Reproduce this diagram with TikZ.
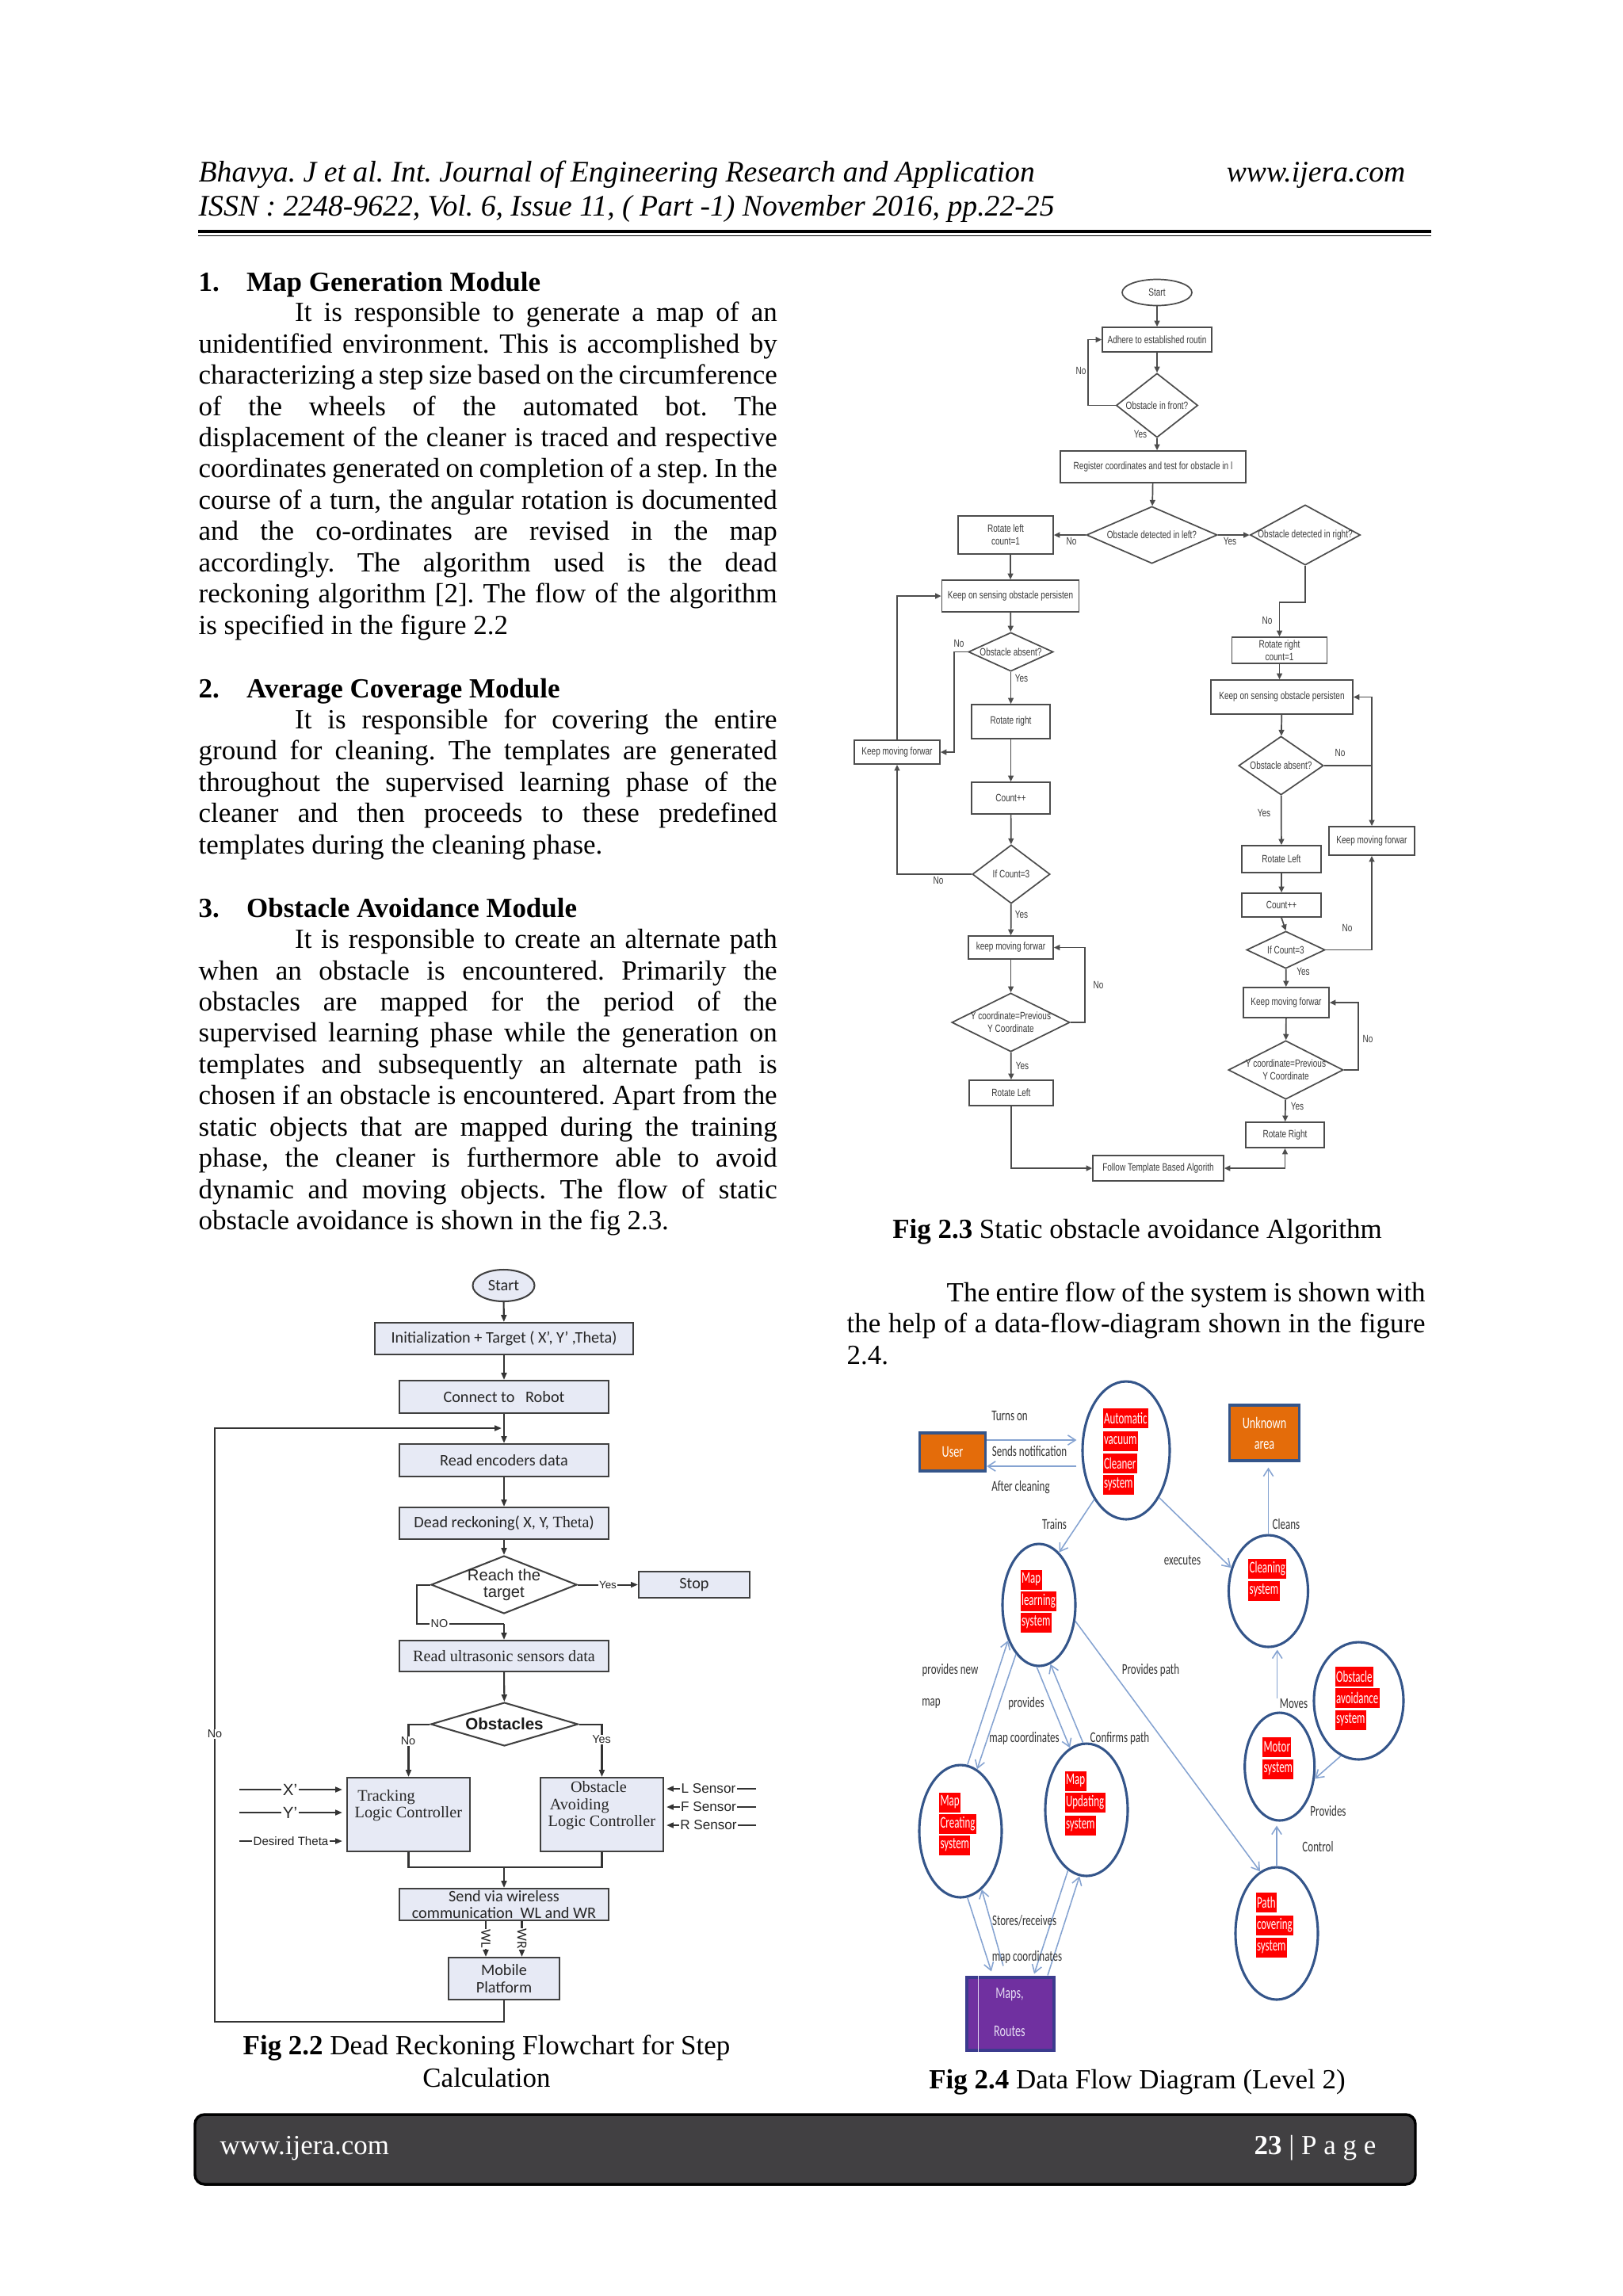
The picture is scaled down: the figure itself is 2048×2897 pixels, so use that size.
\documentclass[tikz,border=0pt]{standalone}
\usepackage{fontspec}
\setmainfont{Liberation Serif}
\newfontfamily\fArial{Liberation Sans}
\newfontfamily\fArialN[FakeStretch=0.75]{Liberation Sans}
\newfontfamily\fCal{Carlito}
\newfontfamily\fCalN[FakeStretch=0.69]{Carlito}
\newfontfamily\fCalR[FakeStretch=0.63]{Carlito}
\usetikzlibrary{shapes.geometric,arrows.meta,calc}
\newdimen\pxu \pxu=0.10254mm
\def\PX{*0.10254mm}
\definecolor{boxblue}{HTML}{E7EAF5}
\definecolor{foot}{HTML}{414042}
\definecolor{orng}{HTML}{E46C0A}
\definecolor{dblue}{HTML}{34558A}
\definecolor{lblue}{HTML}{85A3D1}
\definecolor{purp}{HTML}{7030A0}
\definecolor{purpb}{HTML}{3B3B8E}
\definecolor{lav}{HTML}{E4DAF2}
\definecolor{txtg}{HTML}{3A3A3A}
\tikzset{
  wh/.style 2 args={minimum width=#1\PX, minimum height=#2\PX},
  body/.style={anchor=base west, inner sep=0pt, font=\fontsize{10.2}{12}\selectfont},
  bodyb/.style={body, font=\fontsize{10.2}{12}\selectfont\bfseries},
  fthree/.style={font=\fArialN\fontsize{3.9}{4.6}\selectfont, text=txtg},
  b3/.style={draw=black!70, line width=0.5pt, inner sep=0pt, align=center, fthree},
  d3/.style={b3, diamond},
  e3/.style={b3, ellipse},
  l3/.style={fthree, inner sep=0pt, align=center},
  a3/.style={draw=black!70, line width=0.5pt, -{Triangle[length=2.2pt,width=2pt]}},
  a3b/.style={draw=black!70, line width=0.5pt, {Triangle[length=2.2pt,width=2pt]}-{Triangle[length=2.2pt,width=2pt]}},
  l3line/.style={draw=black!70, line width=0.5pt},
  b2/.style={draw=black!75, fill=boxblue, line width=0.6pt, inner sep=0pt, align=center, text=black!85, font=\fCal\fontsize{5.9}{6.2}\selectfont},
  a2/.style={draw=black!80, line width=0.6pt, -{Triangle[length=2.6pt,width=2pt]}},
  l2/.style={draw=black!80, line width=0.6pt},
  lab2/.style={inner sep=0.4pt, text=black!85, font=\fArial\fontsize{4.2}{5}\selectfont},
  lab2s/.style={inner sep=0.4pt, text=black!85, font=\fArial\fontsize{3.9}{5}\selectfont},
  lab2m/.style={inner sep=0.4pt, text=black!85, font=\fArial\fontsize{5}{6}\selectfont},
  lab2x/.style={inner sep=0.4pt, text=black!85, font=\fArial\fontsize{6}{7}\selectfont},
  tim2/.style={anchor=west, inner sep=0pt, align=left, text=black!85, font=\rmfamily\fontsize{5.9}{6.15}\selectfont},
  el4/.style={ellipse, draw=dblue, line width=0.9pt, inner sep=0pt},
  rw/.style={fill=red, text=white, anchor=west, inner xsep=0.4pt, inner ysep=0pt, minimum height=25\PX, font=\fCalR\fontsize{6}{7}\selectfont},
  l4/.style={inner sep=0pt, text=black!80, font=\fCalN\fontsize{5.5}{6.5}\selectfont},
  c4w/.style={inner sep=0pt, text=lav, font=\fCalN\fontsize{6}{7}\selectfont},
  a4/.style={draw=lblue, line width=0.45pt, -{Straight Barb[length=2.8pt,width=3.6pt]}},
}
\begin{document}
\frenchspacing
\begin{tikzpicture}[x=0.10254mm, y=-0.10254mm]
\useasboundingbox (0,0) rectangle (2048,2897);
\fill[white] (0,0) rectangle (2048,2897);

% ---------- header ----------
\node[anchor=base west, inner sep=0pt, font=\fontsize{11}{13}\selectfont\itshape] (h1) at (250,229) {Bhavya. J et al. Int. Journal of Engineering Research and Application};
\node[anchor=base east, inner sep=0pt, font=\fontsize{11}{13}\selectfont\itshape] (h2) at (1774,229) {www.ijera.com};
\node[anchor=base west, inner sep=0pt, font=\fontsize{11}{13}\selectfont\itshape] (h3) at (250,272) {ISSN : 2248-9622, Vol. 6, Issue 11, ( Part -1) November 2016, pp.22-25};
\draw[line width=1pt] (250,292) -- (1806,292);
\draw[line width=0.3pt] (250,297) -- (1806,297);

% ---------- left column text ----------
\node[bodyb] (hd1n) at (250,367) {1.};
\node[bodyb] (hd1) at (310.5,367) {Map Generation Module};
\node[body] (p1a) at (371.5,405.6) {\makebox[62.396mm][s]{It is responsible to generate a map of an}};
\node[body] (p1b) at (250,445.1) {\makebox[74.854mm][s]{unidentified environment. This is accomplished by}};
\node[body] (p1c) at (250,484.5) {\makebox[74.854mm][s]{characterizing a step size based on the circumference}};
\node[body] (p1d) at (250,524.0) {\makebox[74.854mm][s]{of the wheels of the automated bot. The}};
\node[body] (p1e) at (250,563.4) {\makebox[74.854mm][s]{displacement of the cleaner is traced and respective}};
\node[body] (p1f) at (250,602.9) {\makebox[74.854mm][s]{coordinates generated on completion of a step. In the}};
\node[body] (p1g) at (250,642.4) {\makebox[74.854mm][s]{course of a turn, the angular rotation is documented}};
\node[body] (p1h) at (250,681.8) {\makebox[74.854mm][s]{and the co-ordinates are revised in the map}};
\node[body] (p1i) at (250,721.3) {\makebox[74.854mm][s]{accordingly. The algorithm used is the dead}};
\node[body] (p1j) at (250,760.7) {\makebox[74.854mm][s]{reckoning algorithm [2]. The flow of the algorithm}};
\node[body] (p1k) at (250,800.2) {is specified in the figure 2.2};

\node[bodyb] (hd2n) at (250,880) {2.};
\node[bodyb] (hd2) at (310.5,880) {Average Coverage Module};
\node[body] (p2a) at (371.5,919.5) {\makebox[62.396mm][s]{It is responsible for covering the entire}};
\node[body] (p2b) at (250,958.9) {\makebox[74.854mm][s]{ground for cleaning. The templates are generated}};
\node[body] (p2c) at (250,998.4) {\makebox[74.854mm][s]{throughout the supervised learning phase of the}};
\node[body] (p2d) at (250,1037.8) {\makebox[74.854mm][s]{cleaner and then proceeds to these predefined}};
\node[body] (p2e) at (250,1077.3) {templates during the cleaning phase.};

\node[bodyb] (hd3n) at (250,1157) {3.};
\node[bodyb] (hd3) at (310.5,1157) {Obstacle Avoidance Module};
\node[body] (p3a) at (371.5,1196.5) {\makebox[62.396mm][s]{It is responsible to create an alternate path}};
\node[body] (p3b) at (250,1236) {\makebox[74.854mm][s]{when an obstacle is encountered. Primarily the}};
\node[body] (p3c) at (250,1275.4) {\makebox[74.854mm][s]{obstacles are mapped for the period of the}};
\node[body] (p3d) at (250,1314.9) {\makebox[74.854mm][s]{supervised learning phase while the generation on}};
\node[body] (p3e) at (250,1354.3) {\makebox[74.854mm][s]{templates and subsequently an alternate path is}};
\node[body] (p3f) at (250,1393.8) {\makebox[74.854mm][s]{chosen if an obstacle is encountered. Apart from the}};
\node[body] (p3g) at (250,1433.2) {\makebox[74.854mm][s]{static objects that are mapped during the training}};
\node[body] (p3h) at (250,1472.7) {\makebox[74.854mm][s]{phase, the cleaner is furthermore able to avoid}};
\node[body] (p3i) at (250,1512.1) {\makebox[74.854mm][s]{dynamic and moving objects. The flow of static}};
\node[body] (p3j) at (250,1551.6) {obstacle avoidance is shown in the fig 2.3.};

% ---------- right column text ----------
\node[body, anchor=base] (cap3) at (1435,1562.7) {\textbf{Fig 2.3} Static obstacle avoidance Algorithm};
\node[body] (r1a) at (1194,1642) {\makebox[61.934mm][s]{The entire flow of the system is shown with}};
\node[body] (r1b) at (1068,1681.5) {\makebox[74.854mm][s]{the help of a data-flow-diagram shown in the figure}};
\node[body] (r1c) at (1068,1721) {2.4.};

% ---------- captions ----------
\node[body, anchor=base] (cap2a) at (614,2592) {\textbf{Fig 2.2} Dead Reckoning Flowchart for Step};
\node[body, anchor=base] (cap2b) at (614,2633) {Calculation};
\node[body, anchor=base] (cap4) at (1435,2635) {\textbf{Fig 2.4} Data Flow Diagram (Level 2)};

% ---------- footer ----------
\draw[rounded corners=3.5pt, fill=foot, draw=black, line width=1pt] (246,2668) rectangle (1786,2756);
\node[anchor=base west, inner sep=0pt, text=white, font=\fontsize{10.2}{12}\selectfont] (f1) at (277,2718) {www.ijera.com};
\node[anchor=base east, inner sep=0pt, text=white, font=\fontsize{10.2}{12}\selectfont] (f2) at (1737,2718) {\textbf{23} | P a g e};

% ================= Fig 2.3 =================
\node[e3, wh={88}{33}] (aStart) at (1460,369) {Start};
\node[b3, wh={138}{31}] (aAdh) at (1460,428.5) {Adhere to established routin};
\node[d3, wh={103}{81}, label={[l3]center:{Obstacle in front?}}] (aFront) at (1460,511.5) {};
\node[b3, wh={234}{40}] (aReg) at (1455,589) {Register coordinates and test for obstacle in l};
\node[d3, wh={165}{72}, label={[l3]center:{Obstacle detected in left?}}] (aLeft) at (1453.5,675) {};
\node[b3, wh={120}{48}] (aRotL) at (1269,675) {Rotate left\\count=1};
\node[d3, wh={139}{76}, label={[l3]center:{Obstacle detected in right?}}] (aRight) at (1647,675) {};
\node[b3, wh={173}{40}] (aKeepS1) at (1275,752) {Keep on sensing obstacle persisten};
\node[d3, wh={107}{49}, label={[l3]center:{Obstacle absent?}}] (aAbs1) at (1275.5,822.5) {};
\node[b3, wh={108}{30}] (aKmf1) at (1132,949) {Keep moving forwar};
\node[b3, wh={99}{43}] (aRotR1) at (1275.5,910.5) {Rotate right};
\node[b3, wh={99}{40}] (aCnt1) at (1275.5,1007) {Count++};
\node[d3, wh={98}{74}, label={[l3]center:{If Count=3}}] (aIf1) at (1276,1103) {};
\node[b3, wh={107}{29}] (aKmf2) at (1275.5,1195.5) {keep moving forwar};
\node[d3, wh={149}{74}, label={[l3]center:{Y coordinate=Previous\\Y Coordinate}}] (aY1) at (1275.5,1290) {};
\node[b3, wh={106}{32}] (aRotL2) at (1276,1379) {Rotate Left};
\node[b3, wh={165}{32}] (aFollow) at (1461.5,1474) {Follow Template Based Algorith};
\node[b3, wh={120}{33}] (aRotR2) at (1614.5,820.5) {Rotate right\\count=1};
\node[b3, wh={179}{43}] (aKeepS2) at (1617.5,879.5) {Keep on sensing obstacle persisten};
\node[d3, wh={107}{74}, label={[l3]center:{Obstacle absent?}}] (aAbs2) at (1616.5,966) {};
\node[b3, wh={108}{36}] (aKmf3) at (1731,1061) {Keep moving forwar};
\node[b3, wh={100}{34}] (aRotL3) at (1617,1084) {Rotate Left};
\node[b3, wh={100}{30}] (aCnt2) at (1617,1142) {Count++};
\node[d3, wh={99}{47}, label={[l3]center:{If Count=3}}] (aIf2) at (1622.5,1198.5) {};
\node[b3, wh={108}{38}] (aKmf4) at (1623,1265) {Keep moving forwar};
\node[d3, wh={145}{74}, label={[l3]center:{Y coordinate=Previous\\Y Coordinate}}] (aY2) at (1622.5,1350) {};
\node[b3, wh={99}{32}] (aRotR3) at (1621.5,1432) {Rotate Right};

\draw[a3] (aStart) -- (aAdh);
\draw[a3] (aAdh) -- (aFront);
\draw[a3] (aFront.west) -- ++(-35,0) |- (aAdh.west);
\draw[a3] (aFront.south) -- (aFront.south |- aReg.north);
\draw[a3] (aReg) -- (aLeft);
\draw[a3] (aLeft.west) -- (aRotL.east);
\draw[a3] (aLeft.east) -- (aRight.west);
\draw[a3] (aKeepS1.north |- aRotL.south) -- (aKeepS1.north);
\draw[a3] (aKeepS1) -- (aAbs1);
\draw[a3] (aAbs1.west) -- ++(-17,0) |- (aKmf1.east);
\draw[a3] (aAbs1) -- (aRotR1);
\draw[a3] (aRotR1) -- (aCnt1);
\draw[a3] (aCnt1) -- (aIf1);
\draw[a3] (aIf1.west) -| (aKmf1.south);
\draw[a3] (aKmf1.north) |- (aKeepS1.west);
\draw[a3] (aIf1) -- (aKmf2);
\draw[a3] (aKmf2) -- (aY1);
\draw[a3] (aY1.east) -- ++(18,0) |- (aKmf2.east);
\draw[a3] (aY1) -- (aRotL2);
\draw[a3] (aRotL2.south) |- (aFollow.west);
\draw[a3] (aRight.south) -- ++(0,46) -| (aRotR2.north);
\draw[a3] (aRotR2.south) -- (aRotR2.south |- aKeepS2.north);
\draw[a3] (aKeepS2) -- (aAbs2);
\coordinate (aJ) at (1731,966);
\draw[l3line] (aAbs2.east) -- (aJ);
\draw[a3] (aJ) |- (aKeepS2.east);
\draw[a3] (aJ) -- (aKmf3.north);
\draw[a3] (aAbs2) -- (aRotL3);
\draw[a3] (aRotL3) -- (aCnt2);
\draw[a3] (aCnt2.south) -- (aIf2.north);
\draw[a3] (aIf2.east) -| (aKmf3.south);
\draw[a3] (aIf2) -- (aKmf4);
\draw[a3] (aKmf4) -- (aY2);
\draw[a3] (aY2.east) -- ++(18,0) |- (aKmf4.east);
\draw[a3] (aY2) -- (aRotR3);
\draw[a3b] (aRotR3.south) |- (aFollow.east);

\node[l3] (aL1) at (1364,468) {No};
\node[l3] (aL2) at (1439,548) {Yes};
\node[l3] (aL3) at (1352,683) {No};
\node[l3] (aL4) at (1552,683) {Yes};
\node[l3] (aL5) at (1599,783) {No};
\node[l3] (aL6) at (1210,812) {No};
\node[l3] (aL7) at (1289,856) {Yes};
\node[l3] (aL8) at (1691,950) {No};
\node[l3] (aL9) at (1595,1026) {Yes};
\node[l3] (aL10) at (1184,1111) {No};
\node[l3] (aL11) at (1289,1154) {Yes};
\node[l3] (aL12) at (1700,1171) {No};
\node[l3] (aL13) at (1644.5,1226) {Yes};
\node[l3] (aL14) at (1386,1243) {No};
\node[l3] (aL15) at (1726,1311) {No};
\node[l3] (aL16) at (1290,1345) {Yes};
\node[l3] (aL17) at (1637,1396) {Yes};

% ================= Fig 2.2 =================
\node[b2, ellipse, wh={78}{40}] (bStart) at (635.5,1622) {Start};
\node[b2, wh={326}{40}] (bInit) at (636,1689) {Initialization + Target ( X’, Y’ ,Theta)};
\node[b2, wh={264}{41}] (bConn) at (636,1762.5) {Connect to\ \ \ Robot};
\node[b2, wh={264}{41}] (bEnc) at (636,1842.5) {Read encoders data};
\node[b2, wh={264}{40}] (bDead) at (636,1922) {Dead reckoning( X, Y, {\rmfamily Theta})};
\node[b2, diamond, fill=white, wh={184}{73}, label={[inner sep=0pt, align=center, text=black!85, font=\fArial\fontsize{5.9}{6.2}\selectfont]center:{Reach the\\target}}] (bReach) at (636,1999.5) {};
\node[b2, wh={140}{33}] (bStop) at (876,1999.5) {Stop};
\node[b2, wh={264}{39}, font=\rmfamily\fontsize{5.9}{6.2}\selectfont] (bUltra) at (636,2089.5) {Read ultrasonic sensors data};
\node[b2, diamond, fill=white, wh={186}{55}, label={[inner sep=0pt, text=black!90, font=\fArial\bfseries\fontsize{6}{7}\selectfont]center:{Obstacles}}] (bObs) at (636.5,2175.5) {};
\node[b2, wh={155}{93}] (bTrack) at (515.5,2289.5) {};
\node[tim2] (bTrackT) at (447,2278.5) {\hspace*{1.1pt}Tracking\\Logic Controller};
\node[b2, wh={155}{93}] (bAvoid) at (759.5,2289.5) {};
\node[tim2, font=\rmfamily\fontsize{5.9}{6.25}\selectfont] (bAvoidT) at (691,2278.5) {\hspace*{8.3pt}Obstacle\\\hspace*{0.6pt}Avoiding\\Logic Controller};
\node[b2, wh={264}{40}] (bSend) at (636,2403) {Send via wireless\\communication\ \ WL and WR};
\node[b2, wh={140}{53}] (bMob) at (636,2496.5) {Mobile\\Platform};

\draw[a2] (bStart) -- (bInit);
\draw[a2] (bInit) -- (bConn);
\draw[a2] (bConn) -- (bEnc);
\draw[a2] (bEnc) -- (bDead);
\draw[a2] (bDead) -- (bReach);
\draw[a2] (bReach.east) -- (bStop.west) node[lab2s, fill=white, midway] (bYes1) {Yes};
\coordinate (bNoJ) at (636,2049);
\draw[l2] (bReach.west) -- ++(-17,0) |- (bNoJ);
\draw[a2] (bNoJ) -- (bUltra.north);
\node[lab2, fill=white] (bNO) at (554.5,2049) {NO};
\draw[a2] (bUltra) -- (bObs);
\draw[a2] (bObs.west) -| (bTrack.north);
\draw[a2] (bObs.east) -| (bAvoid.north);
\node[lab2, fill=white] (bNo2) at (515,2197) {No};
\node[lab2, fill=white] (bYes2) at (759,2195) {Yes};
\coordinate (bMerge) at (636,2356);
\draw[l2] (bTrack.south) |- (bMerge) -| (bAvoid.south);
\draw[a2] (bMerge) -- (bSend.north);
\draw[a2] ([xshift=-23\PX]bSend.south) -- ([xshift=-23\PX]bMob.north) node[midway, rotate=-90, fill=white, inner sep=0.3pt, text=black!85, font=\fCal\fontsize{5.2}{6}\selectfont] (bWL) {WL};
\draw[a2] ([xshift=22.5\PX]bSend.south) -- ([xshift=22.5\PX]bMob.north) node[midway, rotate=-90, fill=white, inner sep=0.3pt, text=black!85, font=\fCal\fontsize{5.2}{6}\selectfont] (bWR) {WR};
\coordinate (bJ) at (636,1802);
\draw[a2] (bMob.south) -- ++(0,27) -| ($(bJ)+(-365,0)$) -- ($(bJ)+(-3,0)$);
\node[lab2, fill=white] (bNo3) at (271,2188) {No};

\coordinate (bXi) at (302,2258);
\coordinate (bYi) at (302,2287);
\coordinate (bTi) at (302,2323);
\draw[a2] (bXi) -- ($(bXi -| bTrack.west)+(-5,0)$);
\draw[a2] (bYi) -- ($(bYi -| bTrack.west)+(-5,0)$);
\draw[a2] (bTi) -- ($(bTi -| bTrack.west)+(-5,0)$);
\node[lab2x, fill=white] (bXl) at (366,2258) {X’};
\node[lab2x, fill=white] (bYl) at (366,2287) {Y’};
\node[lab2, fill=white, font=\fArial\fontsize{4.4}{5}\selectfont] (bTl) at (367,2323) {Desired Theta};
\coordinate (bLi) at (954,2257);
\coordinate (bFi) at (954,2280);
\coordinate (bRi) at (954,2303);
\draw[a2] (bLi) -- ($(bLi -| bAvoid.east)+(3,0)$);
\draw[a2] (bFi) -- ($(bFi -| bAvoid.east)+(3,0)$);
\draw[a2] (bRi) -- ($(bRi -| bAvoid.east)+(3,0)$);
\node[lab2m, fill=white] (bLl) at (894,2257) {L Sensor};
\node[lab2m, fill=white] (bFl) at (894,2280) {F Sensor};
\node[lab2m, fill=white] (bRl) at (894,2303) {R Sensor};

% ================= Fig 2.4 =================
\node[draw=dblue, line width=1pt, fill=orng, wh={83}{48}, inner sep=0pt, text=white, font=\fCalN\fontsize{6}{7.6}\selectfont] (cUser) at (1202,1832) {User};
\node[draw=dblue, line width=1pt, fill=orng, wh={88}{70}, inner sep=0pt, align=center, text=white, font=\fCalN\fontsize{6}{7.6}\selectfont] (cUnk) at (1595.5,1808) {Unknown\\area};
\node[el4, wh={110}{174}] (cAuto) at (1421,1830) {};
\node[el4, wh={92}{154}] (cLearn) at (1311,2025) {};
\node[el4, wh={100}{141}] (cClean) at (1600.5,2007.5) {};
\node[el4, wh={113}{148}] (cObst) at (1714.5,2146) {};
\node[el4, wh={88}{136}] (cMotor) at (1614.7,2229) {};
\node[el4, wh={104}{167}] (cPath) at (1611,2439.5) {};
\node[el4, wh={104}{167}] (cCreate) at (1212,2310.5) {};
\node[el4, wh={104}{167}] (cUpd) at (1371,2283.5) {};
\node[draw=purpb, line width=0.9pt, fill=purp, wh={110}{92}, inner sep=0pt] (cStore) at (1275,2541) {};
\draw[lav, line width=0.4pt] ([xshift=16\PX]cStore.north west) -- ([xshift=16\PX]cStore.south west);
\node[c4w] (cMaps) at (1274,2517) {Maps,};
\node[c4w] (cRoutes) at (1274,2563) {Routes};

\node[rw] (cA1) at (1391,1789) {Automatic};
\node[rw] (cA2) at (1391,1818) {vacuum};
\node[rw] (cA3) at (1391,1846) {Cleaner};
\node[rw] (cA4) at (1391,1873) {system};
\node[rw] (cL1) at (1287,1993) {Map};
\node[rw] (cL2) at (1287,2020) {learning};
\node[rw] (cL3) at (1287,2047) {system};
\node[rw] (cC1) at (1574.6,1979) {Cleaning};
\node[rw] (cC2) at (1574.6,2007) {system};
\node[rw] (cO1) at (1684,2115) {Obstacle};
\node[rw] (cO2) at (1684,2142) {avoidance};
\node[rw] (cO3) at (1684,2170) {system};
\node[rw] (cM1) at (1592.5,2204) {Motor};
\node[rw] (cM2) at (1592.5,2232) {system};
\node[rw] (cP1) at (1584,2400) {Path};
\node[rw] (cP2) at (1584,2429) {covering};
\node[rw] (cP3) at (1584,2457) {system};
\node[rw] (cR1) at (1184.5,2274) {Map};
\node[rw] (cR2) at (1184.5,2301) {Creating};
\node[rw] (cR3) at (1184.5,2328) {system};
\node[rw] (cU1) at (1343,2247) {Map};
\node[rw] (cU2) at (1343,2274) {Updating};
\node[rw] (cU3) at (1343,2303) {system};

\draw[a4] ([yshift=15\PX]cUser.east) -- ($(cAuto.west)+(-6,-13)$);
\draw[a4] ($(cAuto.west)+(-6,20)$) -- ([yshift=-18\PX]cUser.east);
\draw[a4] (cAuto.237) -- (cLearn.69);
\draw[a4] (cAuto.-55) -- (cClean.148);
\draw[a4] (cClean.north) -- ($(cClean.north |- cUnk.south)+(0,7)$);
\draw[a4] ($(cMotor.north)+(-3,-16)$) -- ($(cMotor.north |- cClean.south)+(-3,2)$);
\draw[a4] (cObst.252) -- (cMotor.-19);
\draw[a4] (cPath.north) -- ($(cPath.north |- cMotor.south)+(0,5)$);
\draw[a4] (cLearn.-24) -- (cPath.105);
\draw[a4] (cCreate.84) -- (cLearn.229);
\draw[a4] (cLearn.245.5) -- (cCreate.75.5);
\draw[a4] (cLearn.268) -- (cUpd.105);
\draw[a4] (cUpd.93.6) -- (cLearn.281);
\draw[a4] (cCreate.-84) -- ($(cStore.north)+(-24,-6)$);
\draw[a4] ($(cStore.north)+(-9,-13)$) -- (cCreate.-70);
\draw[a4] (cUpd.253) -- ($(cStore.north)+(30,-3)$);
\draw[a4] ($(cStore.north)+(47,-1)$) -- (cUpd.264);

\node[l4] (cT1) at (1274,1786) {Turns on};
\node[l4] (cT2) at (1299,1831) {Sends notification};
\node[l4] (cT3) at (1288,1877) {After cleaning};
\node[l4] (cT4) at (1330.5,1923) {Trains};
\node[l4] (cT5) at (1492,1969) {executes};
\node[l4] (cT6) at (1623,1923) {Cleans};
\node[l4] (cT7) at (1199,2107) {provides new};
\node[l4] (cT8) at (1175,2149) {map};
\node[l4] (cT9) at (1295,2149) {provides};
\node[l4] (cT10) at (1452,2107) {Provides path};
\node[l4] (cT11) at (1632.6,2149) {Moves};
\node[l4] (cT12) at (1292.6,2193) {map coordinates};
\node[l4] (cT13) at (1413,2193) {Confirms path};
\node[l4] (cT14) at (1676,2285) {Provides};
\node[l4] (cT15) at (1663,2330) {Control};
\node[l4] (cT16) at (1292.6,2423) {Stores/receives};
\node[l4] (cT17) at (1296,2469) {map coordinates};
\end{tikzpicture}
\end{document}
